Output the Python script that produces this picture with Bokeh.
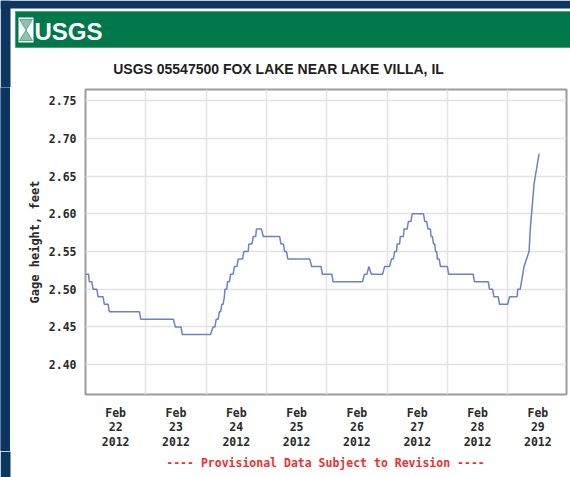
from bokeh.plotting import figure
from bokeh.models import FixedTicker, Range1d
from bokeh.layouts import column, row
from bokeh.core.properties import value
from bokeh.embed import file_html
from bokeh.resources import INLINE

# ---- data (hours since Feb 22 2012 00:00, gage height in feet) ----
hours = [0.25, 1.25, 1.5, 2.5, 3, 4.5, 5, 7, 7.5, 9, 9.5, 21.5, 22, 35, 35.75, 38, 38.5,
         49.75, 50.75, 51.5, 52, 52.75, 53.25, 53.75, 54.25, 54.75, 55.25, 55.5, 56.25,
         56.5, 57.25, 57.75, 58.75, 59.25, 60.25, 60.75, 62.5, 63, 64.75, 65, 66.25, 66.75,
         67.75, 68, 70, 70.75, 77.25, 77.75, 78.75, 79.25, 80, 80.5, 89.25, 90, 93.75, 94.25,
         98, 98.5, 110.25, 111, 112, 112.75, 113.75, 118.25, 119, 121, 121.75, 122.5, 123,
         123.75, 124, 125, 125.25, 126.5, 126.75, 128, 128.5, 129.5, 130, 134.5, 135, 135.75,
         136.25, 137.25, 137.5, 138, 138.5, 139, 139.25, 139.75, 140, 140.75, 141.25, 144,
         144.5, 154.25, 154.75, 160.25, 160.75, 162, 162.5, 164.25, 164.75, 168, 168.75,
         171.75, 172, 173, 173.5, 174, 174.5, 175.5, 176.5, 177, 177.75, 178.5, 179.5, 180.5]
gage = [2.52, 2.52, 2.51, 2.51, 2.50, 2.50, 2.49, 2.49, 2.48, 2.48, 2.47, 2.47, 2.46, 2.46, 2.45, 2.45, 2.44,
        2.44, 2.45, 2.45, 2.46, 2.46, 2.47, 2.47, 2.48, 2.48, 2.49, 2.50, 2.50,
        2.51, 2.51, 2.52, 2.52, 2.53, 2.53, 2.54, 2.54, 2.55, 2.55, 2.56, 2.56, 2.57,
        2.57, 2.58, 2.58, 2.57, 2.57, 2.56, 2.56, 2.55, 2.55, 2.54, 2.54, 2.53, 2.53, 2.52,
        2.52, 2.51, 2.51, 2.52, 2.52, 2.53, 2.52, 2.52, 2.53, 2.53, 2.54, 2.54, 2.55,
        2.55, 2.56, 2.56, 2.57, 2.57, 2.58, 2.58, 2.59, 2.59, 2.60, 2.60, 2.59, 2.59,
        2.58, 2.58, 2.57, 2.57, 2.56, 2.56, 2.55, 2.55, 2.54, 2.54, 2.53, 2.53,
        2.52, 2.52, 2.51, 2.51, 2.50, 2.50, 2.49, 2.49, 2.48, 2.48, 2.49,
        2.49, 2.50, 2.50, 2.51, 2.52, 2.53, 2.54, 2.55, 2.58, 2.61, 2.64, 2.66, 2.68]

tick_hours = [12, 36, 60, 84, 108, 132, 156, 180]
tick_labels = ["Feb\n22\n2012", "Feb\n23\n2012", "Feb\n24\n2012", "Feb\n25\n2012",
               "Feb\n26\n2012", "Feb\n27\n2012", "Feb\n28\n2012", "Feb\n29\n2012"]
grid_hours = [24, 48, 72, 96, 120, 144, 168]
y_ticks = [2.40, 2.45, 2.50, 2.55, 2.60, 2.65, 2.70, 2.75]
y_labels = ["2.40", "2.45", "2.50", "2.55", "2.60", "2.65", "2.70", "2.75"]

title_text = "USGS 05547500 FOX LAKE NEAR LAKE VILLA, IL"
note_text = "---- Provisional Data Subject to Revision ----"
y_title = "Gage height, feet"
brand_text = "USGS"

# ---- layout (the page body has no margin: canvas pixels = page pixels) ----
TW = 570
HH, MH, FH_ = 87, 364, 26          # header, main, footer heights (total 477)
SW = 10                            # dark left strip
ML, MR, MT, MB = 75, 4, 2, 56

MONO = "DejaVu Sans Mono"
SANS = "Liberation Sans"
GREEN = "#00784c"
NAVY = "#0c3560"


def blank(width, height):
    f = figure(width=width, height=height, output_backend="svg", toolbar_location=None,
               x_range=Range1d(0, width), y_range=Range1d(height, 0),
               x_axis_type=None, y_axis_type=None, min_border=0, frame_align=False)
    f.outline_line_color = None
    f.background_fill_color = "white"
    f.border_fill_color = "white"
    f.xgrid.visible = False
    f.ygrid.visible = False
    return f


# header: navy frame, green banner, chart title
hdr = blank(TW, HH)
hdr.quad(left=[0, 0], right=[SW, TW], top=[0, 0], bottom=[HH, 8], fill_color=NAVY, line_color=None)
hdr.quad(left=[15], right=[TW + 2], top=[11], bottom=[47], fill_color=GREEN, line_color="#4f9f78", line_width=1)
hdr.quad(left=[18], right=[33], top=[17], bottom=[42], fill_color="white", line_color=None)
hdr.patch([19, 32, 25.5, 32, 19, 25.5], [19, 19, 29.5, 40, 40, 29.5],
          fill_color=GREEN, fill_alpha=0.45, line_color=GREEN, line_alpha=0.5)
hdr.text(x=[34], y=[30.5], text=[brand_text], text_color="white", text_font=value(SANS),
         text_font_style="bold", text_font_size="24px", text_baseline="middle", text_align="left")
hdr.text(x=[278], y=[68], text=[title_text], text_color="#1e1e1e", text_font=value(SANS),
         text_font_style="bold", text_font_size="14px", text_baseline="middle", text_align="center")

# left navy strip beside the plot
strip = blank(SW, MH)
strip.background_fill_color = NAVY
strip.border_fill_color = NAVY
strip.quad(left=[0], right=[SW], top=[0], bottom=[MH], fill_color=NAVY, line_color=None)

# main plot
p = figure(width=TW - SW, height=MH, output_backend="svg", toolbar_location=None, title=None,
           x_range=Range1d(0, 191.4), y_range=Range1d(2.3603, 2.765), frame_align=False,
           min_border_left=ML, min_border_right=MR, min_border_top=MT, min_border_bottom=MB)
p.background_fill_color = "white"
p.border_fill_color = "white"
p.outline_line_color = "#9c9c9c"
p.outline_line_width = 2

p.line(hours, gage, line_color="#6b82c8", line_width=1.5)

p.xaxis.ticker = FixedTicker(ticks=tick_hours)
p.xaxis.major_label_overrides = {float(h): t for h, t in zip(tick_hours, tick_labels)}
p.xgrid.ticker = FixedTicker(ticks=grid_hours)
p.yaxis.ticker = FixedTicker(ticks=y_ticks)
p.yaxis.major_label_overrides = {float(v): t for v, t in zip(y_ticks, y_labels)}
for ax in (p.xaxis[0], p.yaxis[0]):
    ax.axis_line_color = None
    ax.major_tick_line_color = None
    ax.minor_tick_line_color = None
    ax.major_tick_out = 0
    ax.major_tick_in = 0
    ax.minor_tick_out = 0
    ax.minor_tick_in = 0
    ax.major_label_text_font = MONO
    ax.major_label_text_font_style = "bold"
    ax.major_label_text_font_size = "11.5px"
    ax.major_label_text_color = "#2a2a2a"
    ax.major_label_text_line_height = 1.05
p.xaxis.major_label_standoff = 11
p.yaxis.major_label_standoff = 9
p.yaxis.axis_label = y_title
p.yaxis.axis_label_text_font = MONO
p.yaxis.axis_label_text_font_style = "bold"
p.yaxis.axis_label_text_font_size = "12px"
p.yaxis.axis_label_text_color = "#2a2a2a"
p.yaxis.axis_label_standoff = 4

for g in (p.xgrid[0], p.ygrid[0]):
    g.grid_line_color = "#e3e3e3"
    g.grid_line_width = 1.5

# footer: provisional data note
ftr = blank(TW, FH_)
ftr.quad(left=[0], right=[SW], top=[0], bottom=[FH_], fill_color=NAVY, line_color=None)
ftr.text(x=[325], y=[11], text=[note_text], text_color="#f03030", text_font=value(MONO),
         text_font_style="bold", text_font_size="11.5px", text_baseline="middle", text_align="center")

layout = column(hdr, row(strip, p, spacing=0), ftr, spacing=0)
open("out.html", "w").write(file_html(layout, INLINE))
